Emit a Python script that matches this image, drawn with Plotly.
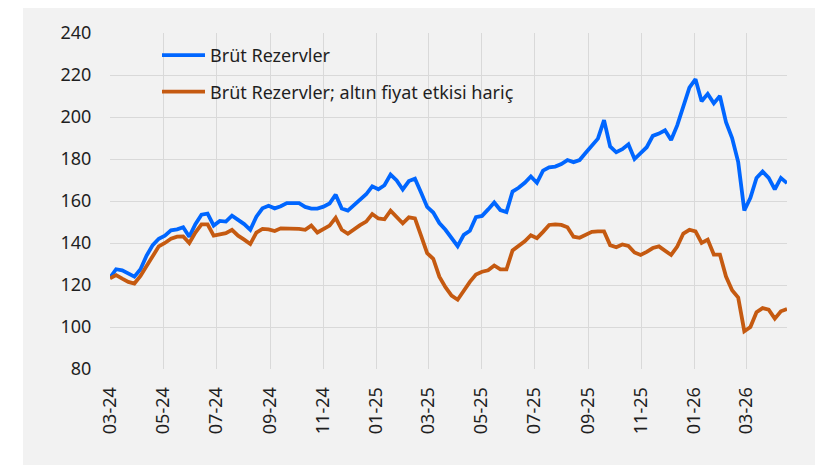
import pandas as pd
import plotly.graph_objects as go

start_date = "2024-03-01"
n_weeks = 112
dates = pd.date_range(start_date, periods=n_weeks, freq="7D")

brut_rezervler = [
    123.5, 127.5, 127.0, 125.5, 124.0, 127.5, 134.0, 139.0, 142.0, 143.5,
    146.0, 146.5, 147.5, 143.0, 149.0, 153.5, 154.0, 148.3, 150.5, 150.2,
    153.0, 151.0, 149.0, 146.3, 152.5, 156.5, 157.7, 156.5, 157.5, 159.0,
    159.1, 159.0, 157.2, 156.4, 156.4, 157.3, 158.8, 163.0, 156.4, 155.4,
    158.0, 160.5, 163.2, 167.0, 165.6, 167.5, 172.6, 169.8, 165.5, 169.5,
    170.6, 164.0, 157.2, 154.5, 149.5, 146.3, 142.0, 138.5, 143.9, 145.8,
    152.3, 152.9, 156.0, 159.3, 155.7, 154.7, 164.5, 166.3, 168.7, 171.7,
    168.7, 174.5, 176.0, 176.4, 177.6, 179.5, 178.5, 179.5, 183.0, 186.5,
    189.7, 198.5, 186.0, 183.2, 184.7, 187.0, 180.0, 182.8, 185.6, 191.0,
    192.1, 193.7, 189.0, 196.0, 205.0, 214.0, 218.0, 207.5, 211.0, 206.5,
    210.0, 197.5, 190.0, 178.5, 155.5, 161.5, 171.0, 174.0, 171.0, 165.5,
    171.0, 168.5,
]

altin_haric = [
    123.2, 124.7, 123.0, 121.5, 120.7, 124.3, 129.0, 134.0, 138.4, 140.0,
    142.0, 143.0, 143.1, 140.0, 145.0, 148.9, 148.9, 143.5, 144.0, 144.7,
    146.3, 143.5, 141.6, 139.5, 145.0, 146.7, 146.5, 145.7, 147.0, 147.0,
    147.0, 146.7, 146.3, 148.3, 145.0, 146.5, 148.3, 152.0, 146.3, 144.4,
    146.6, 148.5, 150.2, 153.8, 151.7, 151.3, 155.4, 152.5, 149.4, 152.2,
    151.7, 143.5, 135.2, 132.5, 124.0, 119.0, 115.0, 113.0, 117.5, 121.5,
    125.0, 126.3, 127.0, 129.3, 127.4, 127.4, 136.5, 138.7, 140.8, 143.7,
    142.3, 145.3, 148.6, 148.9, 148.6, 147.5, 143.0, 142.5, 144.0, 145.3,
    145.5, 145.5, 139.0, 138.0, 139.3, 138.6, 135.5, 134.3, 135.8, 137.6,
    138.4, 136.3, 134.3, 138.3, 144.5, 146.3, 145.5, 140.0, 141.6, 134.5,
    134.5, 124.0, 117.5, 114.0, 98.0, 100.0, 107.0, 109.0, 108.3, 104.0,
    107.5, 108.6,
]

series_names = ["Brüt Rezervler", "Brüt Rezervler; altın fiyat etkisi hariç"]
series_colors = ["#0066ff", "#c55a11"]

fig = go.Figure()
for name, vals, col, grp in zip(series_names, [brut_rezervler, altin_haric], series_colors, ["a", "b"]):
    fig.add_trace(go.Scatter(
        x=dates, y=vals, mode="lines", name=name, legendgroup=grp,
        line=dict(color=col, width=3.8),
    ))

# page body has an 8px margin; work in screenshot pixels and shift
OFF = 8
W, H = 823 - OFF, 465 - OFF
plot_left, plot_right, plot_top, plot_bottom = 110, 787, 29, 369
ml = plot_left - OFF
mt = plot_top - OFF
pw = plot_right - plot_left
ph = plot_bottom - plot_top
mr = W - ml - pw
mb = H - mt - ph

def px_to_paper_x(px):
    return (px - plot_left) / pw

def px_to_paper_y(py):
    return (plot_bottom - py) / ph

fig.add_shape(type="rect", xref="paper", yref="paper",
              x0=px_to_paper_x(23), x1=px_to_paper_x(818),
              y0=px_to_paper_y(470), y1=px_to_paper_y(0),
              fillcolor="#f2f2f2", line=dict(width=0), layer="below")

font_family = "Noto Sans, Open Sans, Arial, sans-serif"
fig.update_layout(
    width=W, height=H,
    margin=dict(l=ml, r=mr, t=mt, b=mb),
    paper_bgcolor="white",
    plot_bgcolor="rgba(0,0,0,0)",
    font=dict(family=font_family, size=18, color="#1f1f1f"),
    showlegend=True,
    legend=dict(
        x=px_to_paper_x(157), y=px_to_paper_y(33), xanchor="left", yanchor="top",
        bgcolor="rgba(0,0,0,0)", traceorder="grouped", tracegroupgap=10,
        itemwidth=43,
        font=dict(size=18, color="#1f1f1f"),
    ),
    xaxis=dict(
        type="date",
        range=["2024-03-01", "2026-04-17"],
        tick0="2024-03-01", dtick="M2", tickformat="%m-%y",
        tickangle=-90,
        showgrid=True, gridcolor="#d9d9d9", gridwidth=1,
        zeroline=False, showline=False,
        ticks="outside", ticklen=10, tickcolor="rgba(0,0,0,0)",
    ),
    yaxis=dict(
        range=[80, 240], dtick=20,
        showgrid=True, gridcolor="#d9d9d9", gridwidth=1,
        zeroline=False, showline=False,
        ticks="outside", ticklen=14, tickcolor="rgba(0,0,0,0)",
    ),
)

fig.write_html("out.html")
